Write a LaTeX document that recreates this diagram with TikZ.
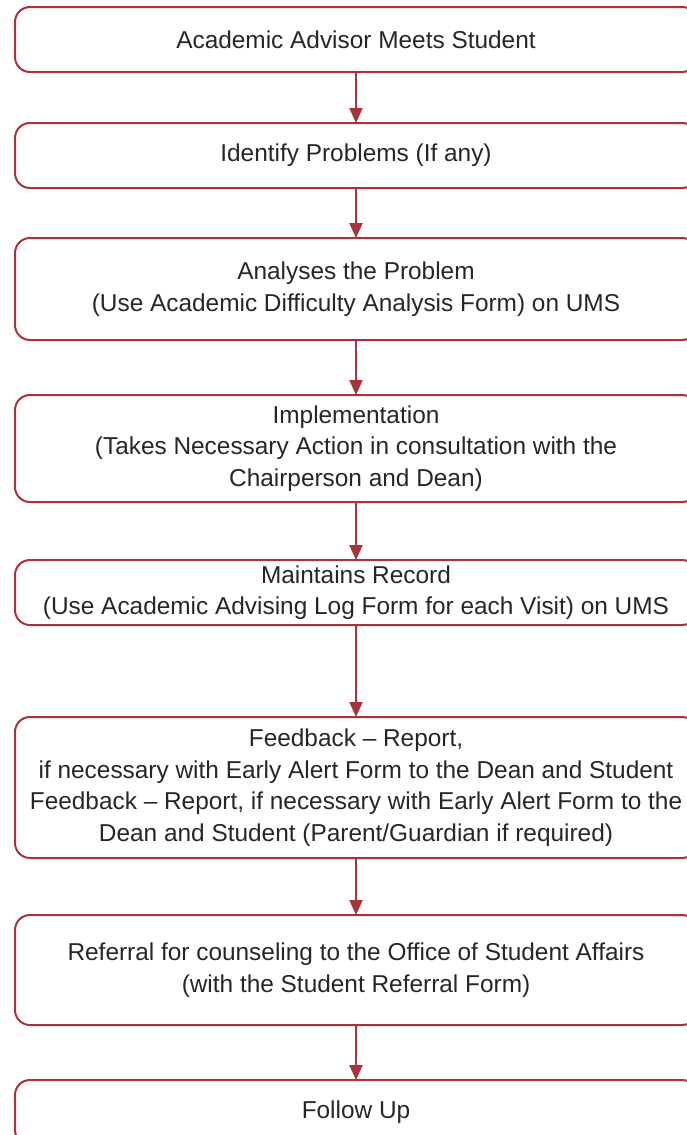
\documentclass[tikz,border=0pt]{standalone}
\usepackage{fontspec}
\setmainfont{Liberation Sans}
\usepackage{tikz}
\usetikzlibrary{arrows.meta}
\usetikzlibrary{positioning}
\definecolor{advred}{RGB}{170,51,58}
\tikzset{
    stepbox/.style = {draw=advred, line width=1pt, rounded corners=7.5pt,
                 minimum width=341pt, inner xsep=2pt, outer sep=0pt, align=center,
                 text=black!85, font=\fontsize{12.2}{15.8}\selectfont},
}

\begin{document}
\begin{tikzpicture}[->,>={Triangle[width=6.5pt,length=7.5pt]},draw=advred,line width=1.1pt]
\useasboundingbox (0,0) rectangle (343pt,-567.5pt);
\node (meet) [stepbox,minimum height=32.5pt] at (178pt,-19.75pt) {Academic Advisor Meets Student};
\node (ident) [stepbox,minimum height=32.5pt, below=25.5pt of meet] {Identify Problems (If any)};
\node (anal) [stepbox,minimum height=51pt, below=25pt of ident]
 {Analyses the Problem\\(Use Academic Difficulty Analysis Form) on UMS};
\node (impl) [stepbox,minimum height=53.5pt, below=27.5pt of anal]
 {Implementation\\(Takes Necessary Action in consultation with the\\Chairperson and Dean)};
\node (rec) [stepbox,minimum height=32.5pt, inner ysep=1pt, below=29pt of impl]
 {Maintains Record\\(Use Academic Advising Log Form for each Visit) on UMS};
\node (feed) [stepbox,minimum height=70.5pt, below=46pt of rec]
 {Feedback -- Report,\\
  if necessary with Early Alert Form to the Dean and Student\\
  Feedback -- Report, if necessary with Early Alert Form to the\\
  Dean and Student (Parent/Guardian if required)};
\node (refer) [stepbox,minimum height=55pt, below=28.5pt of feed]
 {Referral for counseling to the Office of Student Affairs\\(with the Student Referral Form)};
\node (follow) [stepbox,minimum height=32.5pt, below=27.5pt of refer] {Follow Up};

\draw[->] (meet) to (ident);
\draw[->] (ident) to (anal);
\draw[->] (anal) to (impl);
\draw[->] (impl) to (rec);
\draw[->] (rec) to (feed);
\draw[->] (feed) to (refer);
\draw[->] (refer) to (follow);

%\path (rec) edge[bend left=20] (feed);
\end{tikzpicture}
\end{document}
